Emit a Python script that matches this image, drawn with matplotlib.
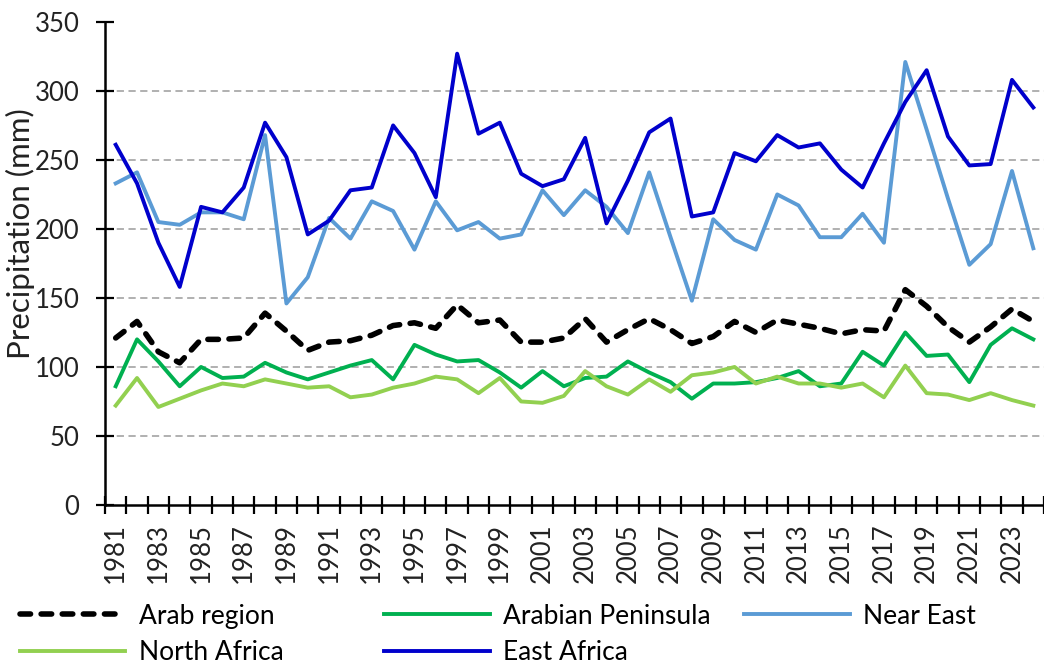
import numpy as np
import matplotlib
matplotlib.use("Agg")
import matplotlib.pyplot as plt

plt.rcParams['font.family'] = ['Lato', 'DejaVu Sans']

# Данные
years = list(range(1981, 2025))

arab_region = [121, 133, 111, 103, 120, 120, 121, 139, 126, 112,
               118, 119, 123, 130, 132, 128, 145, 132, 134, 118,
               118, 121, 135, 118, 127, 135, 127, 117, 122, 133,
               125, 134, 131, 128, 124, 127, 126, 156, 144, 129,
               118, 129, 142, 133]
arabian_peninsula = [86, 120, 104, 86, 100, 92, 93, 103, 96, 91,
                     96, 101, 105, 91, 116, 109, 104, 105, 96, 85,
                     97, 86, 92, 93, 104, 96, 89, 77, 88, 88,
                     89, 92, 97, 86, 88, 111, 101, 125, 108, 109,
                     89, 116, 128, 120]
near_east = [233, 241, 205, 203, 212, 212, 207, 268, 146, 165,
             208, 193, 220, 213, 185, 220, 199, 205, 193, 196,
             228, 210, 228, 216, 197, 241, 194, 148, 207, 192,
             185, 225, 217, 194, 194, 211, 190, 321, 272, 222,
             174, 189, 242, 186]
north_africa = [72, 92, 71, 77, 83, 88, 86, 91, 88, 85,
                86, 78, 80, 85, 88, 93, 91, 81, 92, 75,
                74, 79, 97, 86, 80, 91, 82, 94, 96, 100,
                88, 93, 88, 88, 85, 88, 78, 101, 81, 80,
                76, 81, 76, 72]
east_africa = [261, 233, 190, 158, 216, 212, 230, 277, 252, 196,
               206, 228, 230, 275, 255, 223, 327, 269, 277, 240,
               231, 236, 266, 204, 235, 270, 280, 209, 212, 255,
               249, 268, 259, 262, 243, 230, 262, 292, 315, 267,
               246, 247, 308, 288]

# Рисунок
fig = plt.figure(figsize=(10.44, 6.64), dpi=100)
ax = fig.add_axes([0.1006, 0.2395, 0.8994, 0.7275])

lw = 2.8
l_arab, = ax.plot(years, arab_region, color='black', lw=4.0, linestyle=(0, (1.9, 1.9)),
                  dash_capstyle='round', label='Arab region', zorder=5)
l_ap, = ax.plot(years, arabian_peninsula, color='#00B050', lw=lw, label='Arabian Peninsula')
l_ne, = ax.plot(years, near_east, color='#5B9BD5', lw=lw, label='Near East')
l_na, = ax.plot(years, north_africa, color='#92D050', lw=lw, label='North Africa')
l_ea, = ax.plot(years, east_africa, color='#0000CC', lw=lw, label='East Africa')

ax.set_xlim(1980.5, 2024.2)
ax.set_ylim(0, 350)
ax.set_yticks(np.arange(0, 351, 50))
ax.set_xticks(years[::2])
ax.set_xticklabels([str(y) for y in years[::2]], rotation=90)
ax.set_xticks(np.arange(1980.5, 2024.6, 1), minor=True)
ax.tick_params(axis='x', which='major', length=0, pad=13, labelsize=18.5, colors='#222222')
ax.tick_params(axis='x', which='minor', direction='inout', length=13, width=1.6)
ax.tick_params(axis='y', direction='inout', length=13, width=1.6, labelsize=18.5,
               labelcolor='#222222', pad=12)

ax.yaxis.grid(True, color='#AAAAAA', linestyle=(0, (4, 2.5)), lw=1.3)
ax.set_axisbelow(True)
ax.get_ygridlines()[-1].set_visible(False)
ax.get_ygridlines()[0].set_visible(False)

for s in ['top', 'right']:
    ax.spines[s].set_visible(False)
for s in ['left', 'bottom']:
    ax.spines[s].set_linewidth(1.8)

# Подпись оси Y
fig.text(20 / 1044, 1 - 234 / 664, 'Precipitation (mm)', rotation=90, fontsize=22.5,
         color='#222222', ha='center', va='center')

# Легенда в три колонки
leg_kw = dict(frameon=False, fontsize=19, handlelength=4.0, handletextpad=0.5,
              labelspacing=0.45, borderaxespad=0, borderpad=0, loc='upper left')
fig.legend(handles=[l_arab, l_na], bbox_to_anchor=(0.019, 0.091), **leg_kw)
fig.legend(handles=[l_ap, l_ea], bbox_to_anchor=(0.368, 0.091), **leg_kw)
fig.legend(handles=[l_ne], bbox_to_anchor=(0.713, 0.091), **leg_kw)

fig.savefig('out.png', dpi=100)
